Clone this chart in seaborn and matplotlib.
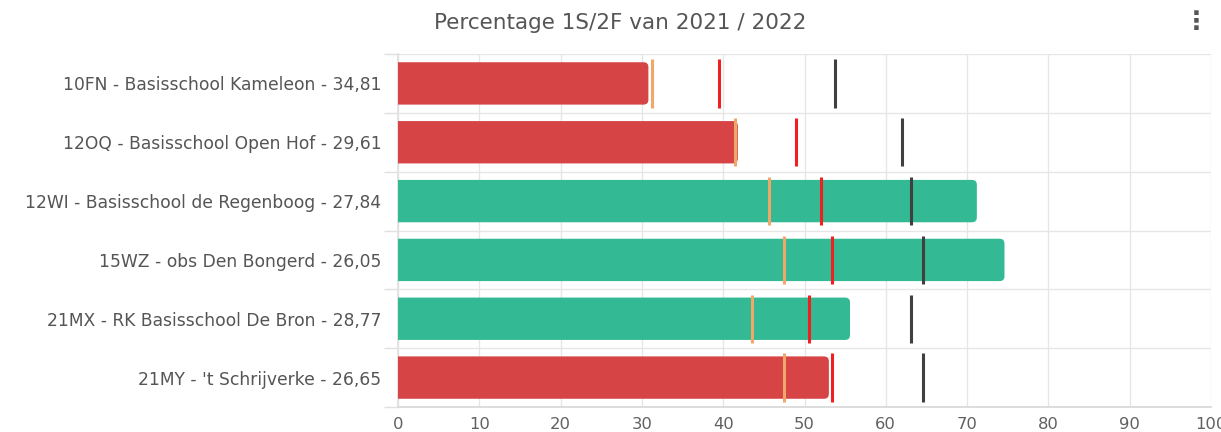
import matplotlib
matplotlib.use("Agg")
import matplotlib.pyplot as plt
from matplotlib.patches import FancyBboxPatch
import seaborn as sns
import pandas as pd
import numpy as np

# ---- data ----
schools = [
    "10FN - Basisschool Kameleon - 34,81",
    "12OQ - Basisschool Open Hof - 29,61",
    "12WI - Basisschool de Regenboog - 27,84",
    "15WZ - obs Den Bongerd - 26,05",
    "21MX - RK Basisschool De Bron - 28,77",
    "21MY - 't Schrijverke - 26,65",
]
percentage = [30.8, 41.8, 71.2, 74.6, 55.6, 53.0]
status = ["onder", "onder", "boven", "boven", "boven", "onder"]
marker_orange = [31.3, 41.5, 45.6, 47.5, 43.5, 47.5]
marker_red = [39.5, 48.9, 52.0, 53.4, 50.5, 53.4]
marker_black = [53.7, 62.0, 63.1, 64.6, 63.1, 64.6]
x_ticks = [0, 10, 20, 30, 40, 50, 60, 70, 80, 90, 100]
title = "Percentage 1S/2F van 2021 / 2022"

df = pd.DataFrame({"school": schools, "pct": percentage, "status": status})

sns.set_theme(style="white")
plt.rcParams["font.family"] = ["DejaVu Sans"]

fig = plt.figure(figsize=(12.21, 4.32), dpi=100)
ax = fig.add_axes([398 / 1221, 1 - 407 / 432, (1211 - 398) / 1221, (407 - 54) / 432])

sns.barplot(data=df, x="pct", y="school", hue="status", orient="h",
            palette={"onder": "#d64446", "boven": "#33b993"}, saturation=1,
            width=0.72, dodge=False, legend=False, ax=ax, zorder=3)

ax.set_xlim(0, 100)
ax.set_ylim(len(schools) - 0.5, -0.5)

# round the right-hand corners of the bars (left side is clipped by the axis)
for p in list(ax.patches):
    x0, y0 = p.get_x(), p.get_y()
    w, h = p.get_width(), p.get_height()
    if w <= 0:
        continue
    fc = p.get_facecolor()
    p.remove()
    rb = FancyBboxPatch((x0 - 2, y0), w + 2, h,
                        boxstyle="round,pad=0,rounding_size=0.6",
                        mutation_aspect=0.14, facecolor=fc, edgecolor="none",
                        zorder=3, clip_on=True)
    ax.add_patch(rb)

ypos = np.arange(len(schools))
ax.vlines(marker_orange, ypos - 0.41, ypos + 0.41, colors="#f0a86a", linewidth=2.2, zorder=4)
ax.vlines(marker_red, ypos - 0.41, ypos + 0.41, colors="#f02020", linewidth=2.2, zorder=4)
ax.vlines(marker_black, ypos - 0.41, ypos + 0.41, colors="#404040", linewidth=2.2, zorder=4)

ax.set_xticks(x_ticks)
ax.set_xticklabels([str(t) for t in x_ticks])
ax.set_xlabel("")
ax.set_ylabel("")

# grid
for t in x_ticks:
    ax.axvline(t, color="#e6e6e6", linewidth=1, zorder=1)
for b in np.arange(-0.5, len(schools), 1.0):
    ax.axhline(b, color="#e6e6e6", linewidth=1, zorder=1)

for s in ["top", "right"]:
    ax.spines[s].set_visible(False)
ax.spines["left"].set_color("#e0e0e0")
ax.spines["bottom"].set_color("#d8d8d8")

ax.tick_params(axis="x", length=6, color="#e0e0e0", labelsize=11.8, labelcolor="#606060", pad=1)
ax.tick_params(axis="y", length=0, labelsize=12.3, labelcolor="#555555", pad=12)
ax.set_yticks(ypos)
ax.set_yticks(np.arange(-0.5, len(schools), 1.0), minor=True)
ax.tick_params(axis="y", which="minor", length=10, color="#e0e0e0", left=True)

fig.text(620 / 1221, 1 - 23 / 432, title, ha="center", va="center",
         fontsize=15.5, color="#555555")
fig.text(1196 / 1221, 1 - 22 / 432, "\u22ee", ha="center", va="center",
         fontsize=18, color="#555555", fontweight="bold")

fig.savefig("out.png", dpi=100)
